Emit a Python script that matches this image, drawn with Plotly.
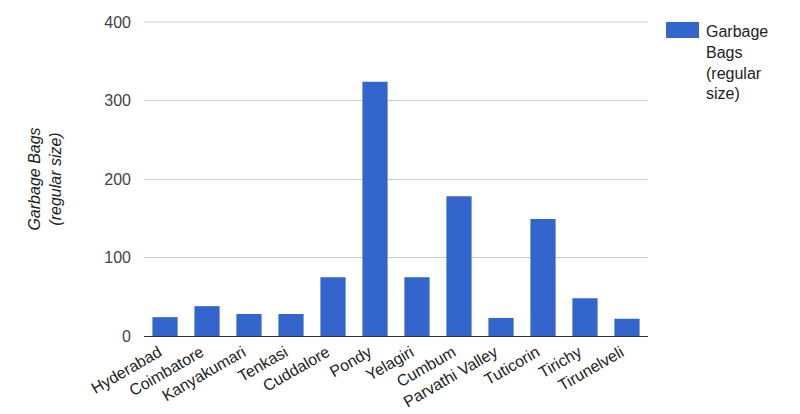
import plotly.graph_objects as go

categories = ["Hyderabad", "Coimbatore", "Kanyakumari", "Tenkasi", "Cuddalore", "Pondy",
              "Yelagiri", "Cumbum", "Parvathi Valley", "Tuticorin", "Tirichy", "Tirunelveli"]
values = [24, 38, 28, 28, 75, 324, 75, 178, 23, 149, 48, 22]
series_name = "Garbage Bags (regular size)"
y_ticks = [0, 100, 200, 300, 400]

# page body has an 8px margin, so the figure is sized/offset to compensate
OFF = 8
W, H = 800 - OFF, 414 - OFF
L, R, T, B = 144 - OFF, 152, 22 - OFF, 78
pw, ph = W - L - R, H - T - B

def px_x(px):
    return (px - OFF - L) / pw

def px_y(py):
    return (H - B - (py - OFF)) / ph

fig = go.Figure()
fig.add_trace(go.Bar(x=categories, y=values, name=series_name,
                     marker=dict(color="#3366cc", line=dict(width=0)), showlegend=False))

fig.update_layout(
    width=W, height=H,
    margin=dict(l=L, r=R, t=T, b=B),
    paper_bgcolor="white", plot_bgcolor="white",
    font=dict(family="Liberation Sans, Arial, sans-serif", size=16, color="#444"),
    bargap=0.4,
    xaxis=dict(tickangle=-30, tickfont=dict(size=16, color="#222"), showgrid=False,
               showline=True, linecolor="#333", linewidth=1, ticks="", automargin=False,
               ticklabelshift=-6),
    yaxis=dict(range=[0, 400], tickvals=y_ticks, gridcolor="#cccccc", zeroline=False,
               tickfont=dict(size=16, color="#444"), ticks="", ticklen=0, automargin=False,
               ticklabelstandoff=12,
               title=dict(text="<i>Garbage Bags<br>(regular size)</i>",
                          font=dict(size=16, color="#222"), standoff=38)),
)

# top gridline at 400 (plotly omits gridline at the range edge)
fig.add_shape(type="line", xref="paper", yref="paper", x0=0, x1=1, y0=1, y1=1,
              line=dict(color="#cccccc", width=1), layer="below")

# Legend drawn manually (wide swatch + wrapped text)
fig.add_shape(type="rect", xref="paper", yref="paper",
              x0=px_x(666), x1=px_x(699), y0=px_y(38), y1=px_y(22),
              fillcolor="#3366cc", line=dict(width=0))
fig.add_annotation(xref="paper", yref="paper", x=px_x(704), y=px_y(21),
                   xanchor="left", yanchor="top", align="left", showarrow=False,
                   text="Garbage<br>Bags<br>(regular<br>size)",
                   font=dict(size=16, color="#222"))

fig.write_html("out.html")
